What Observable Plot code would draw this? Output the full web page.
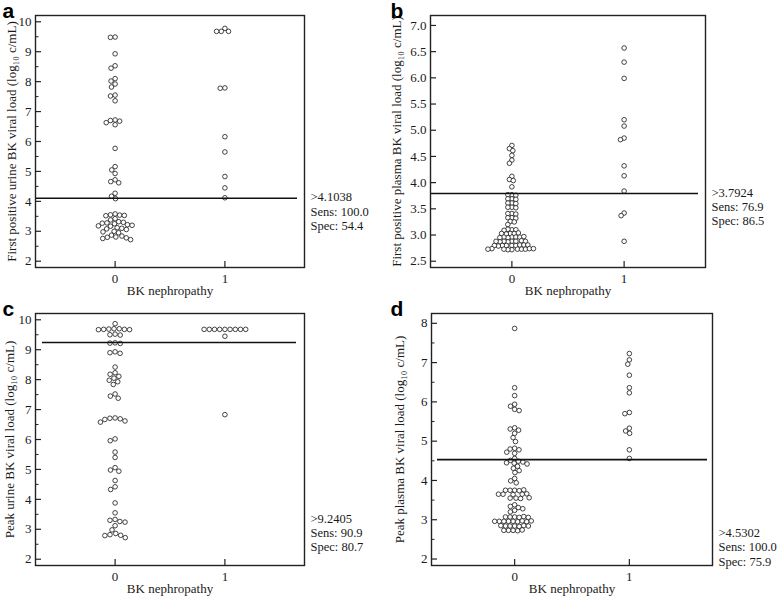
<!DOCTYPE html>
<html>
<head>
<meta charset="utf-8">
<script src="https://cdn.jsdelivr.net/npm/d3@7"></script>
<script src="https://cdn.jsdelivr.net/npm/@observablehq/plot@0.6"></script>
<style>
  body { margin: 0; background: #fff; }
  #wrap { position: relative; width: 778px; height: 598px; background: #fff; overflow: hidden; }
  .cell { position: absolute; width: 390px; height: 300px; }
  .cell svg { position: absolute; left: 0; top: 0; }
</style>
</head>
<body>
<div id="wrap"></div>
<script>
// ---- categories ----
const groups = [0, 1];               // BK nephropathy: 0 = no, 1 = yes
const xLabel = "BK nephropathy";

// ---- panel a: first positive urine BK viral load (log10 c/mL) ----
const aNeg = [9.49, 9.48, 8.93, 8.53, 8.45, 8.10, 8.02, 7.92, 7.82, 7.55, 7.52, 7.36,
  6.72, 6.70, 6.68, 6.63, 6.56, 5.77, 5.16, 5.05, 4.93, 4.72, 4.66, 4.62, 4.27, 4.17, 4.09,
  3.58, 3.55, 3.54, 3.53, 3.52, 3.42, 3.38, 3.32, 3.30, 3.28, 3.27, 3.25, 3.22, 3.20, 3.18,
  3.17, 3.12, 3.10, 3.08, 3.06, 3.00, 2.98, 2.95, 2.87, 2.84, 2.81, 2.80, 2.78, 2.76, 2.72];
const aPos = [9.78, 9.68, 9.68, 9.68, 7.79, 7.78, 6.16, 5.65, 4.83, 4.45, 4.12];

// ---- panel b: first positive plasma BK viral load ----
const bNeg = [4.71, 4.65, 4.61, 4.52, 4.43, 4.37, 4.12, 4.06, 4.04, 3.92,
  3.77, 3.77, 3.76, 3.69, 3.69, 3.68, 3.61, 3.61, 3.60, 3.53, 3.53, 3.52,
  3.41, 3.41, 3.40, 3.33, 3.33, 3.32, 3.26, 3.25, 3.20,
  3.10, 3.11, 3.10, 3.09,
  3.03, 3.03, 3.02, 3.04, 3.03,
  2.96, 2.95, 2.96, 2.96, 2.97, 2.96, 2.95,
  2.88, 2.88, 2.87, 2.88, 2.89, 2.88, 2.87, 2.88,
  2.80, 2.80, 2.81, 2.80, 2.81, 2.80, 2.79, 2.81, 2.80,
  2.72, 2.72, 2.73, 2.73, 2.73, 2.73, 2.74, 2.74, 2.74, 2.73];
const bPos = [6.57, 6.30, 5.99, 5.20, 5.08, 4.85, 4.82, 4.32, 4.13, 3.84, 3.42, 3.37, 2.88];

// ---- panel c: peak urine BK viral load ----
const cNeg = [9.87, 9.70, 9.70, 9.69, 9.68, 9.68, 9.67, 9.67, 9.52, 9.50, 9.49,
  9.23, 9.22, 9.21, 8.93, 8.90, 8.88, 8.42, 8.23, 8.18, 8.11, 8.05, 7.98, 7.93, 7.84,
  7.52, 7.45, 7.38, 6.72, 6.71, 6.69, 6.67, 6.62, 6.58, 6.02, 5.96, 5.58, 5.40,
  5.06, 4.98, 4.94, 4.63, 4.42, 4.33, 3.88, 3.55, 3.33, 3.30, 3.26, 3.24, 3.12, 2.98,
  2.86, 2.82, 2.80, 2.79, 2.72];
const cPos = [9.68, 9.68, 9.68, 9.68, 9.68, 9.68, 9.68, 9.68, 9.68, 9.45, 6.83];

// ---- panel d: peak plasma BK viral load ----
const dNeg = [7.87, 6.36, 6.16, 5.94, 5.89, 5.81, 5.78, 5.34, 5.31, 5.28, 5.20, 5.09, 4.99,
  4.82, 4.80, 4.78, 4.72, 4.69, 4.56,
  4.51, 4.49, 4.47, 4.45, 4.44, 4.42, 4.36, 4.31, 4.25, 4.20, 4.05, 3.99, 3.94,
  3.75, 3.75, 3.74, 3.76, 3.75, 3.65, 3.65, 3.64, 3.66, 3.65, 3.55, 3.55, 3.54, 3.56,
  3.38, 3.34, 3.31, 3.28, 3.24, 3.20,
  3.07, 3.07, 3.06, 3.08, 3.07, 3.06,
  2.96, 2.96, 2.95, 2.97, 2.96, 2.96, 2.95, 2.97, 2.96,
  2.84, 2.84, 2.83, 2.85, 2.84, 2.84, 2.85,
  2.73, 2.73, 2.72, 2.74, 2.73];
const dPos = [7.23, 7.07, 6.96, 6.68, 6.36, 6.23, 5.73, 5.70, 5.33, 5.26, 5.20, 4.78, 4.56];

// ---- cut-offs and their statistics ----
const cutoffs = [4.1038, 3.7924, 9.2405, 4.5302];
const sens = ["100.0", "76.9", "90.9", "100.0"];
const spec = ["54.4", "86.5", "80.7", "75.9"];

// ---- axis titles and ticks ----
const yTitles = [
  "First positive urine BK viral load (log₁₀ c/mL)",
  "First positive plasma BK viral load (log₁₀ c/mL)",
  "Peak urine BK viral load (log₁₀ c/mL)",
  "Peak plasma BK viral load (log₁₀ c/mL)"
];
const urineTicks = [2, 3, 4, 5, 6, 7, 8, 9, 10];
const urineMinor = [2.5, 3.5, 4.5, 5.5, 6.5, 7.5, 8.5, 9.5];
const plasmaTicksB = [2.5, 3.0, 3.5, 4.0, 4.5, 5.0, 5.5, 6.0, 6.5, 7.0];
const plasmaTicksD = [2, 3, 4, 5, 6, 7, 8];
const plasmaMinorD = [2.5, 3.5, 4.5, 5.5, 6.5, 7.5];

// ---- layout (not data) ----
const W = 390, H = 300;
const xDomain = [-0.725, 1.725];
const pad = 0.225;
const serif = "'Liberation Serif', 'Times New Roman', Times, serif";
const sans = "'Liberation Sans', Arial, Helvetica, sans-serif";

const panels = [
  {letter: "a", neg: aNeg, pos: aPos, k: 0, left: 0, top: 0, ml: 35, mr: 86, yDomain: [1.79, 10.21],
   ticks: urineTicks, minor: urineMinor, fmt: d => String(d), noteAt: 4.1038, titleX: 11, ruleL: 0, ruleR: 7, dodgePad: 0.1},
  {letter: "b", neg: bNeg, pos: bPos, k: 1, left: 388, top: 0, ml: 42, mr: 73, yDomain: [2.38, 7.19],
   ticks: plasmaTicksB, minor: [], fmt: d => d.toFixed(1), noteAt: 3.7924, titleX: 8, ruleL: 0, ruleR: 7, dodgePad: -0.6},
  {letter: "c", neg: cNeg, pos: cPos, k: 2, left: 0, top: 298, ml: 35, mr: 86, yDomain: [1.79, 10.21],
   ticks: urineTicks, minor: urineMinor, fmt: d => String(d), noteAt: 3.33, titleX: 9, ruleL: 7, ruleR: 8, dodgePad: 0.6},
  {letter: "d", neg: dNeg, pos: dPos, k: 3, left: 388, top: 298, ml: 43, mr: 66, yDomain: [1.835, 8.25],
   ticks: plasmaTicksD, minor: plasmaMinorD, fmt: d => String(d), noteAt: 2.64, titleX: 11, ruleL: 6, ruleR: 5, dodgePad: 0}
];
const mt = 15, mb = 33;

const wrap = document.getElementById("wrap");

for (const p of panels) {
  const cell = document.createElement("div");
  cell.className = "cell";
  cell.style.left = p.left + "px";
  cell.style.top = p.top + "px";
  wrap.appendChild(cell);

  const rows = [
    ...p.neg.map(v => ({g: groups[0], v})),
    ...p.pos.map(v => ({g: groups[1], v}))
  ];
  const fw = W - p.ml - p.mr, fh = H - mt - mb;

  // layer 1: beeswarm dots, one facet per group
  const dots = Plot.plot({
    width: W, height: H,
    marginLeft: p.ml, marginRight: p.mr, marginTop: mt, marginBottom: mb,
    facet: {data: rows, x: "g"},
    fx: {domain: groups, paddingInner: 0, paddingOuter: pad, round: false, axis: null, label: null},
    y: {domain: p.yDomain, axis: null},
    style: {background: "none"},
    marks: [
      Plot.dot(rows, Plot.dodgeX({anchor: "middle", padding: p.dodgePad},
        {y: "v", r: 2.3, fill: "white", stroke: "#222", strokeWidth: 0.85}))
    ]
  });
  cell.appendChild(dots);

  // layer 2: frame, axes, cut-off line and texts
  const note = `>${cutoffs[p.k].toFixed(4)}\nSens: ${sens[p.k]}\nSpec: ${spec[p.k]}`;
  const over = Plot.plot({
    width: W, height: H,
    marginLeft: p.ml, marginRight: p.mr, marginTop: mt, marginBottom: mb,
    style: {background: "none", fontFamily: serif, fontSize: "13px", color: "#1a1a1a", overflow: "visible"},
    x: {domain: xDomain, ticks: groups, tickSize: 0, tickPadding: 6, tickFormat: d => String(d), label: null},
    y: {domain: p.yDomain, ticks: p.ticks, tickSize: 0, tickPadding: 4, tickFormat: p.fmt, label: null},
    marks: [
      Plot.tickY(p.ticks, {stroke: "#222", strokeWidth: 1.2, insetRight: fw - 6}),
      Plot.tickY(p.minor, {stroke: "#222", strokeWidth: 1, insetRight: fw - 3.5}),
      Plot.tickX(groups, {stroke: "#222", strokeWidth: 1.2, insetTop: fh - 6}),
      Plot.ruleY([cutoffs[p.k]], {stroke: "#111", strokeWidth: 1.7, insetLeft: p.ruleL, insetRight: p.ruleR}),
      Plot.frame({stroke: "#222", strokeWidth: 1.4}),
      Plot.text([note], {frameAnchor: "right", y: () => p.noteAt, dx: 6, dy: -7, textAnchor: "start",
        lineAnchor: "top", lineHeight: 1.15, fontSize: 12.5, fontFamily: serif, fill: "#1a1a1a"}),
      Plot.text([xLabel], {frameAnchor: "bottom", dy: 23.5, lineAnchor: "middle", textAnchor: "middle",
        fontSize: 13, fontFamily: serif, fill: "#1a1a1a"}),
      Plot.text([yTitles[p.k]], {frameAnchor: "left", rotate: -90, dx: -(p.ml - p.titleX), lineAnchor: "middle",
        textAnchor: "middle", fontSize: 13, fontFamily: serif, fill: "#1a1a1a"}),
      Plot.text([p.letter], {frameAnchor: "top-left", dx: -(p.ml - 2), dy: -(mt - 17), textAnchor: "start",
        lineAnchor: "bottom", fontSize: 21, fontWeight: "bold", fontFamily: sans, fill: "#000"})
    ]
  });
  cell.appendChild(over);
}
</script>
</body>
</html>
